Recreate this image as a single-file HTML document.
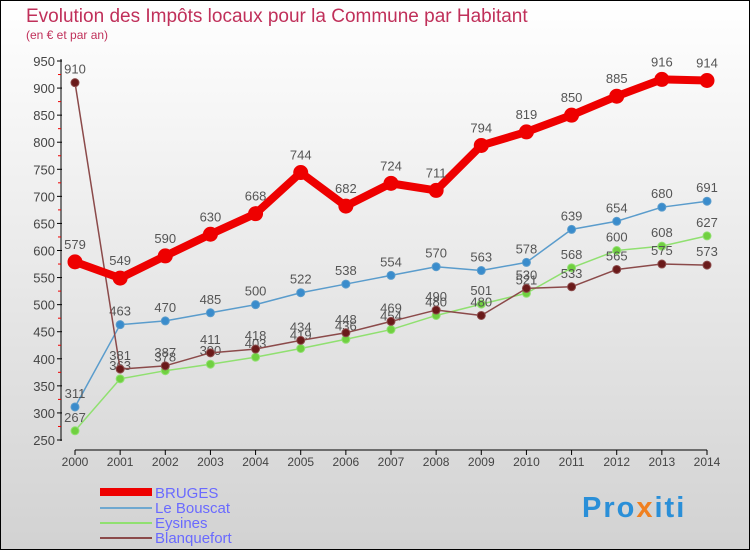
<!DOCTYPE html>
<html><head><meta charset="utf-8"><style>
body{margin:0}
svg text{font-family:"Liberation Sans",sans-serif}
</style></head><body>
<svg width="750" height="550" xmlns="http://www.w3.org/2000/svg">
<defs><linearGradient id="bg" x1="0" y1="0" x2="0" y2="1"><stop offset="0" stop-color="#ffffff"/><stop offset="1" stop-color="#d2d2d2"/></linearGradient></defs>
<rect x="0.5" y="0.5" width="749" height="549" fill="url(#bg)" stroke="#000"/>
<text x="26" y="22" font-size="19" fill="#c0305a">Evolution des Impôts locaux pour la Commune par Habitant</text>
<text x="26" y="39" font-size="12" fill="#c0305a">(en € et par an)</text>
<g id="axes"></g>
<g id="series"></g>
<g>
<line x1="100" y1="492" x2="152" y2="492" stroke="#e00" stroke-width="8"/>
<text x="155" y="498" font-size="15" fill="#6a6aff">BRUGES</text>
<line x1="100" y1="508" x2="152" y2="508" stroke="#6fa8d0" stroke-width="2"/>
<text x="155" y="513" font-size="15" fill="#6a6aff">Le Bouscat</text>
<line x1="100" y1="523" x2="152" y2="523" stroke="#90e070" stroke-width="2"/>
<text x="155" y="528" font-size="15" fill="#6a6aff">Eysines</text>
<line x1="100" y1="538" x2="152" y2="538" stroke="#8b4a4a" stroke-width="2"/>
<text x="155" y="543" font-size="15" fill="#6a6aff">Blanquefort</text>
</g>
<text x="582" y="517" font-size="29" font-weight="bold" letter-spacing="2" fill="#2a8fd8">Pro<tspan fill="#f08020">x</tspan>iti</text>
</svg>
<script>
const years=[2000,2001,2002,2003,2004,2005,2006,2007,2008,2009,2010,2011,2012,2013,2014];
const bruges=[579,549,590,630,668,744,682,724,711,794,819,850,885,916,914];
const bouscat=[311,463,470,485,500,522,538,554,570,563,578,639,654,680,691];
const eysines=[267,363,378,390,403,419,436,454,480,501,521,568,600,608,627];
const blanquefort=[910,381,387,411,418,434,448,469,490,480,530,533,565,575,573];
const yTicks=[250,300,350,400,450,500,550,600,650,700,750,800,850,900,950];
const NS="http://www.w3.org/2000/svg";
const X=i=>75+i*(707-75)/(years.length-1);
const Y=v=>440-(v-250)*(379/700);
function mk(tag,attrs,parent,txt){const e=document.createElementNS(NS,tag);for(const k in attrs)e.setAttribute(k,attrs[k]);if(txt!==undefined)e.textContent=txt;parent.appendChild(e);return e;}
const ax=document.getElementById('axes');
let e=mk('line',{x1:61,y1:59,x2:61,y2:441,stroke:'#000'},ax);


e=mk('line',{x1:75,y1:450,x2:707,y2:450,stroke:'#000'},ax);


yTicks.forEach((t,i)=>{
 mk('line',{x1:57,y1:Y(t),x2:62,y2:Y(t),stroke:'#000'},ax);
 if(i<yTicks.length-1)mk('line',{x1:58,y1:Y(t+25),x2:61,y2:Y(t+25),stroke:'#e00'},ax);
 const l=mk('text',{x:55,y:Y(t)+5,'font-size':13,'text-anchor':'end',fill:'#444'},ax,t);
 
 
});
years.forEach((y,i)=>{
 mk('line',{x1:X(i),y1:450,x2:X(i),y2:455,stroke:'#000'},ax);
 const l=mk('text',{x:X(i),y:466,'font-size':12,'text-anchor':'middle',fill:'#444'},ax,y);
 
 
});
const sg=document.getElementById('series');
function series(data,name,color,w,r,fill,off){
 const g=mk('g',{},sg);
 
 
 const p=mk('polyline',{points:data.map((v,i)=>X(i)+','+Y(v)).join(' '),fill:'none',stroke:color,'stroke-width':w,'stroke-linejoin':'round'},g);
 
 
 data.forEach((v,i)=>{
  const c=mk('circle',{cx:X(i),cy:Y(v),r:r,fill:fill,stroke:color,'stroke-width':1},g);
  
  
  const t=mk('text',{x:X(i),y:Y(v)-off,'font-size':13,'text-anchor':'middle',fill:'#555'},g,v);
  
  
 });
}
series(bouscat,'le-bouscat','#5a9ccc',1.5,4,'#3a8ccc',9);
series(eysines,'eysines','#90e070',1.5,4,'#70d040',9);
series(blanquefort,'blanquefort','#8b4a4a',1.5,4,'#6a1a1a',9);
series(bruges,'bruges','#ee0000',8,7,'#ee0000',13);
</script>
</body></html>
